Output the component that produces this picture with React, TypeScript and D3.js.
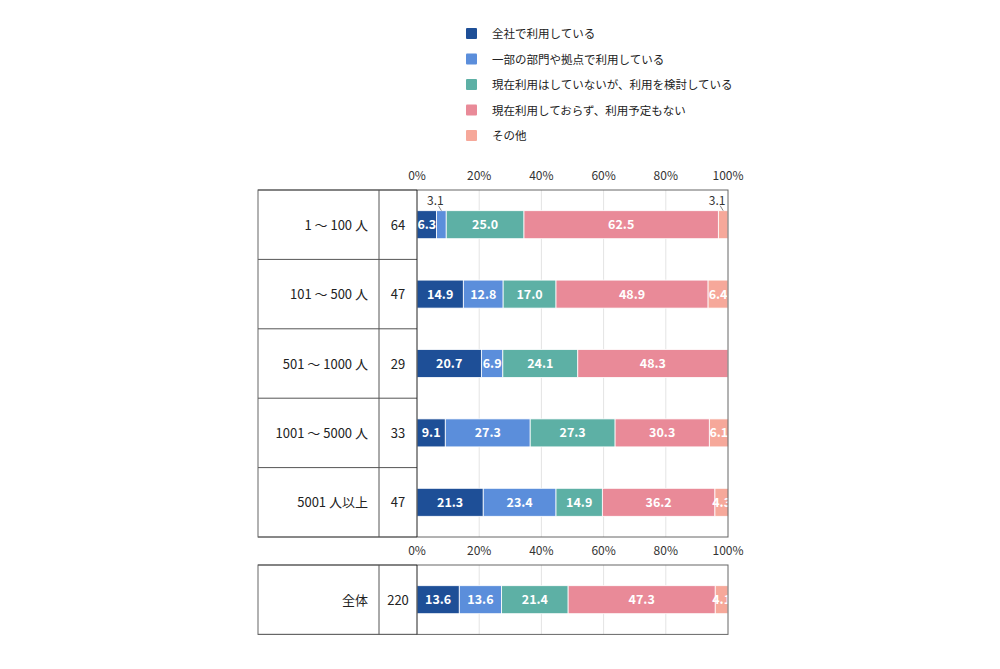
import React from 'react';
import * as d3 from 'd3';

const seriesNames = ['全社で利用している', '一部の部門や拠点で利用している', '現在利用はしていないが、利用を検討している', '現在利用しておらず、利用予定もない', 'その他'];
const colors = ['#1e4f97', '#5b8edb', '#5db0a5', '#e98a98', '#f6a89a'];
const groups = ['1 ～ 100 人', '101 ～ 500 人', '501 ～ 1000 人', '1001 ～ 5000 人', '5001 人以上'];
const counts = [64, 47, 29, 33, 47];
const values = [
  [6.3, 3.1, 25.0, 62.5, 3.1],
  [14.9, 12.8, 17.0, 48.9, 6.4],
  [20.7, 6.9, 24.1, 48.3, 0],
  [9.1, 27.3, 27.3, 30.3, 6.1],
  [21.3, 23.4, 14.9, 36.2, 4.3],
];
const totalLabel = '全体';
const totalCount = 220;
const totalValues = [13.6, 13.6, 21.4, 47.3, 4.1];
const ticks = [0, 20, 40, 60, 80, 100];

const font = '"Noto Sans CJK JP", "Noto Sans", sans-serif';
const x0 = 258, x1 = 379, px0 = 417, px1 = 728;
const x = d3.scaleLinear().domain([0, 100]).range([px0, px1]);

function Panel({ top, labels, ns, data }: { top: number; labels: string[]; ns: number[]; data: number[][] }) {
  const rowH = 69.4;
  const y = d3.scaleBand<number>().domain(d3.range(labels.length)).range([top, top + rowH * labels.length]);
  const bottom = top + rowH * labels.length;
  return (
    <g>
      {ticks.map(t => (
        <g key={t}>
          {t > 0 && t < 100 && <line x1={x(t)} x2={x(t)} y1={top} y2={bottom} stroke="#e4e4e4" />}
          <text x={x(t)} y={top - 10} fontSize={12} textAnchor="middle" fill="#333">{t}%</text>
        </g>
      ))}
      {data.map((row, i) => {
        const stack = d3.cumsum(row);
        const cy = (y(i) as number) + rowH / 2;
        return (
          <g key={i}>
            {row.map((v, j) => {
              if (v <= 0) return null;
              const a = x(stack[j] - v), b = x(stack[j]);
              const outside = i === 0 && labels.length > 1 && v < 4;
              return (
                <g key={j}>
                  <rect x={a} y={cy - 14} width={b - a} height={28} fill={colors[j]} stroke="#fff" strokeWidth={0.8} />
                  {outside ? (
                    <g>
                      <line x1={(a + b) / 2} y1={cy - 14} x2={(a + b) / 2 - 3} y2={cy - 19} stroke="#555" strokeWidth={0.7} />
                      <text x={(a + b) / 2 - 6} y={cy - 20} fontSize={12} textAnchor="middle" fill="#333">{v.toFixed(1)}</text>
                    </g>
                  ) : (
                    <text x={(a + b) / 2} y={cy + 4.5} fontSize={12.5} fontWeight="bold" textAnchor="middle" fill="#fff">{v.toFixed(1)}</text>
                  )}
                </g>
              );
            })}
            <text x={x1 - 11} y={cy + 5} fontSize={13} textAnchor="end" fill="#222">{labels[i]}</text>
            <text x={(x1 + px0) / 2} y={cy + 5} fontSize={13} textAnchor="middle" fill="#222">{ns[i]}</text>
            <line x1={x0} x2={px0} y1={(y(i) as number) + rowH} y2={(y(i) as number) + rowH} stroke="#555" />
          </g>
        );
      })}
      <rect x={x0} y={top} width={px1 - x0} height={bottom - top} fill="none" stroke="#666" />
      <line x1={x0} x2={px0} y1={top} y2={top} stroke="#555" />
      <line x1={x1} x2={x1} y1={top} y2={bottom} stroke="#555" />
      <line x1={px0} x2={px0} y1={top} y2={bottom} stroke="#222" />
    </g>
  );
}

export default function App() {
  return (
    <svg width={1000} height={669} style={{ position: 'absolute', left: 0, top: 0, fontFamily: font }}>
      <rect width={1000} height={669} fill="#fff" />
      {seriesNames.map((s, i) => (
        <g key={s} transform={`translate(466, ${28 + i * 25.5})`}>
          <rect width={11} height={11} fill={colors[i]} rx={1} />
          <text x={26} y={10} fontSize={11.5} fill="#222">{s}</text>
        </g>
      ))}
      <Panel top={190} labels={groups} ns={counts} data={values} />
      <Panel top={565} labels={[totalLabel]} ns={[totalCount]} data={[totalValues]} />
    </svg>
  );
}
